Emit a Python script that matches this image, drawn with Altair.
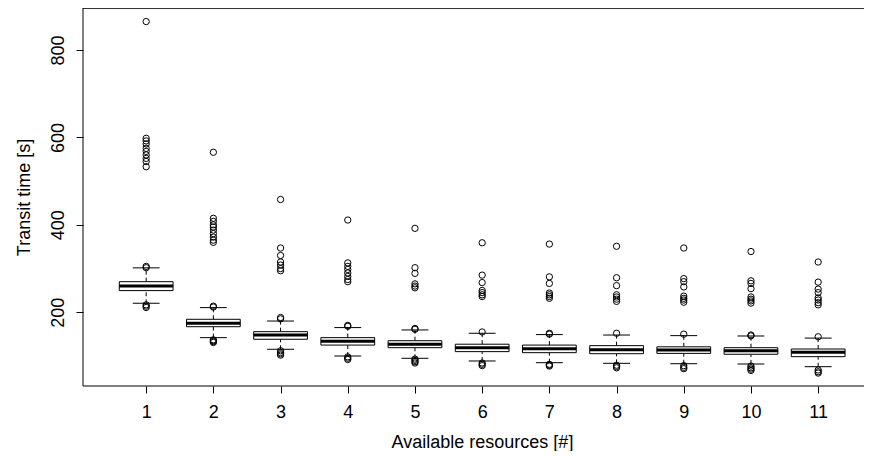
import altair as alt
import pandas as pd

groups = [1, 2, 3, 4, 5, 6, 7, 8, 9, 10, 11]
medians = [260, 175, 148, 133.6, 127, 119, 116.8, 114.5, 113.8, 112, 108.5]
q1 = [249.6, 167, 138.3, 125, 119, 110, 107.6, 105.3, 106, 104, 98.5]
q3 = [270, 184, 155.7, 142, 135, 127, 125, 123.7, 121, 119, 116]
whisker_low = [220.7, 142, 115.4, 100, 94.8, 88.6, 84.7, 83.3, 82.4, 81.7, 75.6]
whisker_high = [301.6, 210.7, 180, 165, 159.6, 152, 149, 148, 146.6, 145.8, 141]

outliers = {
    1: [865, 598, 592, 585, 575, 568, 560, 552, 545, 533, 305, 302, 217, 214, 211],
    2: [566, 415, 408, 400, 395, 388, 380, 372, 365, 360, 214, 212, 137, 135, 133, 131],
    3: [458, 347, 330, 315, 308, 300, 295, 188, 185, 112, 108, 105, 102],
    4: [411, 313, 305, 298, 290, 282, 275, 270, 170, 168, 98, 95, 92],
    5: [392, 302, 289, 265, 260, 256, 163, 161, 93, 90, 87, 84],
    6: [359, 285, 268, 250, 245, 240, 236, 155, 84, 81, 78],
    7: [356, 281, 266, 244, 240, 236, 232, 152, 150, 81, 79, 77],
    8: [351, 279, 261, 240, 235, 230, 225, 152, 79, 76, 73],
    9: [347, 277, 270, 258, 237, 232, 228, 223, 150, 78, 74, 71],
    10: [339, 272, 266, 254, 235, 230, 226, 221, 148, 146, 77, 73, 70, 67],
    11: [315, 269, 253, 245, 233, 228, 222, 217, 144, 68, 64, 61],
}

x_ticks = groups
y_ticks = [200, 400, 600, 800]

FONT = "Liberation Sans"
FS = 18
W, H = 781, 378

box_df = pd.DataFrame({
    "g": groups, "med": medians, "q1": q1, "q3": q3,
    "lo": whisker_low, "hi": whisker_high,
})
box_df["left"] = box_df["g"] - 0.4
box_df["right"] = box_df["g"] + 0.4
box_df["capl"] = box_df["g"] - 0.2
box_df["capr"] = box_df["g"] + 0.2

out_df = pd.DataFrame(
    [{"g": g, "v": v} for g, vals in outliers.items() for v in vals]
)

xscale = alt.Scale(domain=[0.06, 11.682], nice=False, zero=False)
yscale = alt.Scale(domain=[31.4, 896], nice=False, zero=False)

xaxis = alt.Axis(
    values=x_ticks, format="d", title="Available resources [#]", grid=False, domain=False,
    tickColor="black", tickSize=7, tickWidth=1,
    labelFont=FONT, labelFontSize=FS, labelColor="black",
    labelBaseline="alphabetic", labelPadding=24,
    titleFont=FONT, titleFontSize=FS, titleFontWeight="normal", titleColor="black",
    titleBaseline="alphabetic", titleY=61, titleX=399, labelFlush=False,
)
yaxis = alt.Axis(
    values=y_ticks, format="d", title="Transit time [s]", grid=False, domain=False,
    tickColor="black", tickSize=7, tickWidth=1,
    labelFont=FONT, labelFontSize=FS, labelColor="black",
    labelAngle=-90, labelAlign="center", labelBaseline="alphabetic", labelPadding=13,
    titleFont=FONT, titleFontSize=FS, titleFontWeight="normal", titleColor="black",
    titleAngle=-90, titleAlign="center", titleBaseline="alphabetic",
    titleX=-54, titleY=189, labelFlush=False,
)

base = alt.Chart(box_df)

whisk_hi = base.mark_rule(color="black", strokeWidth=1, strokeDash=[4, 3]).encode(
    x=alt.X("g:Q", scale=xscale, axis=xaxis),
    y=alt.Y("q3:Q", scale=yscale, axis=yaxis),
    y2="hi:Q",
)
whisk_lo = base.mark_rule(color="black", strokeWidth=1, strokeDash=[4, 3]).encode(
    x="g:Q", y="lo:Q", y2="q1:Q",
)
cap_hi = base.mark_rule(color="black", strokeWidth=1).encode(
    x="capl:Q", x2="capr:Q", y="hi:Q",
)
cap_lo = base.mark_rule(color="black", strokeWidth=1).encode(
    x="capl:Q", x2="capr:Q", y="lo:Q",
)
boxes = base.mark_rect(fill="white", stroke="black", strokeWidth=1).encode(
    x="left:Q", x2="right:Q", y="q1:Q", y2="q3:Q",
)
med = base.mark_rule(color="black", strokeWidth=3, strokeCap="butt").encode(
    x="left:Q", x2="right:Q", y="med:Q",
)
pts = alt.Chart(out_df).mark_point(
    shape="circle", filled=False, color="black", size=40, strokeWidth=1, opacity=1
).encode(x="g:Q", y="v:Q")

frame = alt.Chart(box_df.head(1))
top_line = frame.mark_rule(color="#333333", strokeWidth=1).encode(
    x=alt.value(0), x2=alt.value(W + 10), y=alt.value(0.5))
bot_line = frame.mark_rule(color="black", strokeWidth=1).encode(
    x=alt.value(0), x2=alt.value(W + 10), y=alt.value(H))
left_line = frame.mark_rule(color="black", strokeWidth=1).encode(
    x=alt.value(0), y=alt.value(0), y2=alt.value(H))

chart = alt.layer(
    whisk_hi, whisk_lo, cap_hi, cap_lo, boxes, med, pts, top_line, bot_line, left_line
).properties(
    width=W, height=H,
    autosize=alt.AutoSizeParams(type="none"),
    padding={"left": 75, "top": 0, "right": 0, "bottom": 65},
    background="white",
).configure_view(stroke=None)

chart.save("out.html", embed_options={"renderer": "svg", "actions": False})
